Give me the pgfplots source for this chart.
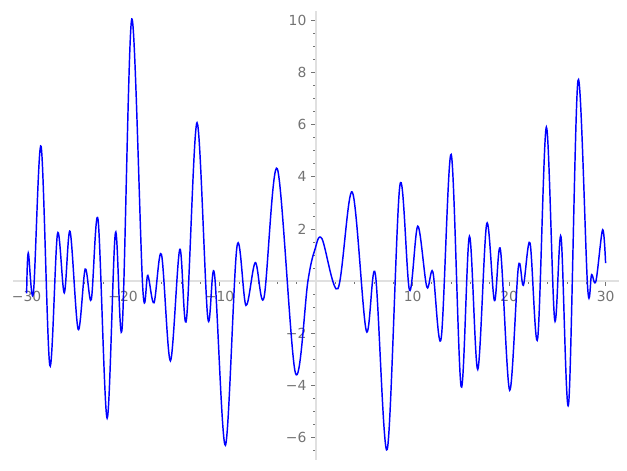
\documentclass[border=0pt]{standalone}
\usepackage{fontspec}
\setmainfont{DejaVu Sans}
\usepackage{pgfplots}
\pgfplotsset{compat=1.18}
\definecolor{axisgrey}{gray}{0.88}
\definecolor{labelgrey}{gray}{0.45}
\begin{document}
\begin{tikzpicture}[x=1pt,y=1pt]
\path[use as bounding box] (0,0) rectangle (451.44,338.4);
\begin{axis}[
  at={(13.6,3.8)}, anchor=south west,
  scale only axis, width=436.3pt, height=323.6pt,
  axis lines=middle,
  xmin=-31.4, xmax=31.4, ymin=-6.87, ymax=10.38,
  axis line style={axisgrey, line width=1pt, -},
  xtick={-30,-20,-10,0,10,20,30},
  xticklabels={−30,−20,−10,,10,20,30},
  ytick={-6,-4,-2,0,2,4,6,8,10},
  yticklabels={−6,−4,−2,,2,4,6,8,10},
  minor xtick={-28,-26,-24,-22,-18,-16,-14,-12,-8,-6,-4,-2,2,4,6,8,12,14,16,18,22,24,26,28},
  minor ytick={-6.5,-5.5,-5,-4.5,-3.5,-3,-2.5,-1.5,-1,-0.5,0.5,1,1.5,2.5,3,3.5,4.5,5,5.5,6.5,7,7.5,8.5,9,9.5},
  tick align=outside,
  major tick length=3.5pt, minor tick length=2pt,
  tick style={labelgrey, line width=0.6pt},
  ticklabel style={font=\fontsize{10}{12}\selectfont, text=labelgrey},
  clip=false,
]
\addplot[blue, line width=1.05pt, smooth, tension=0.55] coordinates {
(-30,-0.47) (-29.83,1.08) (-29.3,-0.45) (-28.5,5.17) (-27.6,-3.23)
(-26.8,1.82) (-26.1,-0.45) (-25.5,1.91) (-24.66,-1.85) (-23.93,0.46)
(-23.3,-0.71) (-22.6,2.36) (-21.66,-5.26) (-20.8,1.85) (-20.1,-1.78)
(-19.1,10.06) (-17.96,-0.30) (-17.44,0.22) (-16.8,-0.83) (-16.03,1.03)
(-15.1,-3.06) (-14.13,1.22) (-13.44,-1.48) (-12.34,6.08) (-11.23,-1.40)
(-10.54,0.29) (-9.4,-6.30) (-8.2,1.33) (-7.27,-0.93) (-6.3,0.71)
(-5.4,-0.63) (-4.02,4.31) (-2.15,-3.52) (-0.85,0.0)
(-0.15,1.18) (0.6,1.63)
(2.26,-0.29) (3.75,3.42) (5.2,-1.91) (6.13,0.29) (7.37,-6.46)
(8.68,3.67) (9.68,-0.35) (10.54,2.11) (11.47,-0.22) (12.1,0.35)
(12.96,-2.2) (14.0,4.86) (15.03,-4.05) (15.89,1.72) (16.75,-3.39)
(17.68,2.2) (18.48,-0.75) (19.1,1.21) (20.06,-4.19) (20.96,0.54)
(21.48,-0.16) (22.17,1.46) (22.96,-2.2) (23.86,5.91) (24.72,-1.48)
(25.38,1.70) (26.17,-4.7) (27.14,7.70) (28.14,-0.25) (28.55,0.25)
(29.0,0.0) (29.69,1.97) (30,0.69)
};
\end{axis}
\end{tikzpicture}
\end{document}
